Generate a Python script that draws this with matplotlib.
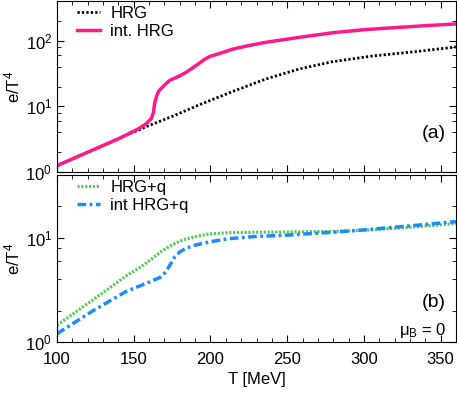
import matplotlib
matplotlib.use("Agg")
import matplotlib.pyplot as plt
from matplotlib.ticker import LogLocator, MultipleLocator, NullFormatter

# panel (a): HRG and interacting HRG
t_hrg = [100, 120, 140, 150, 160, 175, 193, 214.5, 236, 258, 279, 305, 334, 360]
e_hrg = [1.25, 2.0, 3.2, 4.05, 5.1, 7.0, 10.6, 16.8, 26.0, 37.0, 47.5, 58.0, 68.0, 80.0]

t_int = [100, 120, 140, 152.8, 158, 161.5, 162.8, 163.6, 165, 166.5, 170, 173.4, 180, 184.2,
         188.5, 192.9, 196, 199.4, 208, 214.5, 225, 236, 258, 279, 301, 323, 341, 360]
e_int = [1.25, 2.0, 3.2, 4.5, 5.4, 6.5, 8.0, 11.0, 14.5, 17.3, 21.0, 24.8, 29.0, 33.0,
         38.6, 45.5, 51.5, 57.0, 66.0, 74.0, 84.0, 94.0, 112.0, 131.0, 147.0, 159.0, 169.0, 179.0]

# panel (b): with quarks
t_hrgq = [100, 123.6, 145, 155, 162.6, 168, 173.4, 178, 184, 192, 199, 212, 230, 250, 280, 300, 330, 360]
e_hrgq = [1.45, 2.55, 4.3, 5.3, 6.4, 7.4, 8.3, 9.0, 9.7, 10.4, 10.85, 11.2, 11.3, 11.35, 11.5, 11.8, 12.6, 13.7]

t_intq = [100, 123.6, 145, 160, 167, 171, 174, 176.6, 180, 184, 190, 199, 212, 230, 250, 280, 300, 330, 360]
e_intq = [1.2, 2.0, 3.05, 3.75, 4.15, 4.7, 5.6, 6.5, 7.3, 7.9, 8.5, 9.1, 9.8, 10.3, 10.6, 11.3, 11.9, 13.0, 14.3]

plt.rcParams["font.family"] = ["Liberation Sans", "DejaVu Sans"]
plt.rcParams["font.size"] = 12
plt.rcParams["mathtext.fontset"] = "custom"
plt.rcParams["mathtext.rm"] = "Liberation Sans"
plt.rcParams["mathtext.it"] = "Liberation Sans:italic"

fig = plt.figure(figsize=(4.57, 3.93), dpi=100)
W, H = 457, 393
ax1 = fig.add_axes([57 / W, 1 - 172 / H, 399 / W, 171 / H])
ax2 = fig.add_axes([57 / W, 1 - 342 / H, 399 / W, 167 / H])

ax1.plot(t_hrg, e_hrg, color="black", lw=2, ls=(0, (0.8, 0.8)), label="HRG")
ax1.plot(t_int, e_int, color="#ff1a8c", lw=2.5, label="int. HRG")
ax1.set_ylim(1, 400)

ax2.plot(t_hrgq, e_hrgq, color="#5cc95c", lw=2.3, ls=(0, (0.7, 0.5)), label="HRG+q")
ax2.plot(t_intq, e_intq, color="#1a8cff", lw=2.5, ls=(0, (2.5, 1.0, 0.8, 1.0)), label="int HRG+q")
ax2.set_ylim(1, 40)

for ax in (ax1, ax2):
    ax.set_yscale("log")
    ax.set_xlim(100, 360)
    ax.xaxis.set_major_locator(MultipleLocator(50))
    ax.xaxis.set_minor_locator(MultipleLocator(10))
    ax.yaxis.set_major_locator(LogLocator(base=10, subs=(1.0,)))
    ax.yaxis.set_minor_locator(LogLocator(base=10, subs=(2, 4, 6, 8)))
    ax.yaxis.set_minor_formatter(NullFormatter())
    ax.tick_params(which="both", direction="in", top=True, right=True)
    ax.tick_params(which="major", length=5)
    ax.tick_params(which="minor", length=3)
    ax.tick_params(axis="x", pad=7)
    ax.set_ylabel(r"e/T$^4$", labelpad=2)
    ax.legend(loc="upper left", bbox_to_anchor=(0.038, 1.0), frameon=False,
              handlelength=1.4, handletextpad=0.6,
              borderaxespad=0.1, labelspacing=0.15, borderpad=0.2)

ax1.tick_params(labelbottom=False)
ax2.set_xlabel("T [MeV]", labelpad=4)

ax1.text(0.975, 0.228, "(a)", transform=ax1.transAxes, ha="right", va="center", fontsize=14)
ax2.text(0.975, 0.234, "(b)", transform=ax2.transAxes, ha="right", va="center", fontsize=14)
ax2.text(0.975, 0.068, r"$\mathrm{\mu_B}$ = 0", transform=ax2.transAxes, ha="right", va="center")

fig.savefig("out.png", dpi=100)
